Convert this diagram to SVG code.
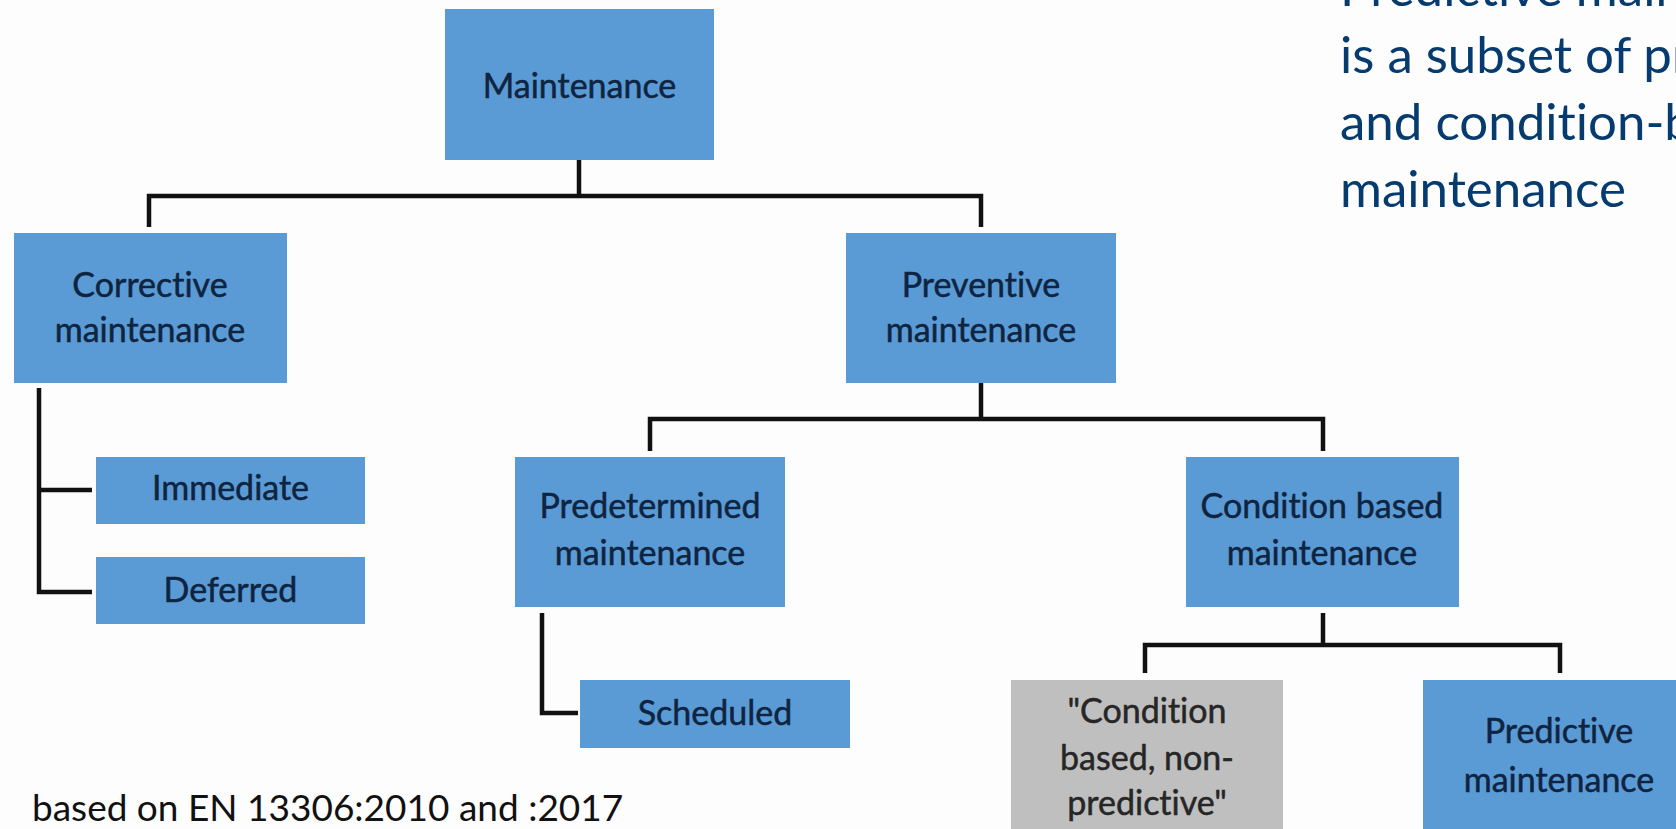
<svg xmlns="http://www.w3.org/2000/svg" width="1676" height="829" viewBox="0 0 1676 829">
<style>
text{font-variant-ligatures:none;}
.box{fill:#5b9bd5;}
.grey{fill:#bfbfbf;}
.lbl{font-family:Lato,"Open Sans","Liberation Sans",sans-serif;font-size:34px;fill:#0f2440;stroke:#0f2440;stroke-width:0.5;text-anchor:middle;}
.glbl{font-family:Lato,"Open Sans","Liberation Sans",sans-serif;font-size:34px;fill:#262626;stroke:#262626;stroke-width:0.5;text-anchor:middle;}
.con{fill:none;stroke:#111;stroke-width:4.5;stroke-linejoin:miter;stroke-linecap:butt;}
.note{font-family:Lato,"Open Sans","Liberation Sans",sans-serif;font-size:51px;fill:#053b6e;}
.foot{font-family:Lato,"Open Sans","Liberation Sans",sans-serif;font-size:37px;fill:#111;}
</style>
<rect width="1676" height="829" fill="#fdfdfd"/>
<g id="connectors">
<path class="con" d="M579,160 V196"/>
<path class="con" d="M149,227 V196 H981 V227"/>
<path class="con" d="M981,383 V419"/>
<path class="con" d="M650,451 V419 H1323 V451"/>
<path class="con" d="M39,388 V592 H92"/>
<path class="con" d="M39,490 H92"/>
<path class="con" d="M542,613 V713 H578"/>
<path class="con" d="M1323,613 V645"/>
<path class="con" d="M1145,673 V645 H1560 V673"/>
</g>
<g id="maintenance">
<rect class="box" x="445" y="9" width="269" height="151"/>
<text class="lbl" x="579.5" y="98">Maintenance</text>
</g>
<g id="corrective">
<rect class="box" x="14" y="233" width="273" height="150"/>
<text class="lbl" x="150" y="297">Corrective</text>
<text class="lbl" x="150" y="342">maintenance</text>
</g>
<g id="preventive">
<rect class="box" x="846" y="233" width="270" height="150"/>
<text class="lbl" x="981" y="297">Preventive</text>
<text class="lbl" x="981" y="342">maintenance</text>
</g>
<g id="immediate">
<rect class="box" x="96" y="457" width="269" height="67"/>
<text class="lbl" x="230.5" y="500">Immediate</text>
</g>
<g id="deferred">
<rect class="box" x="96" y="557" width="269" height="67"/>
<text class="lbl" x="230.5" y="602">Deferred</text>
</g>
<g id="predetermined">
<rect class="box" x="515" y="457" width="270" height="150"/>
<text class="lbl" x="650" y="518">Predetermined</text>
<text class="lbl" x="650" y="565">maintenance</text>
</g>
<g id="condition">
<rect class="box" x="1186" y="457" width="273" height="150"/>
<text class="lbl" x="1322" y="518">Condition based</text>
<text class="lbl" x="1322" y="565">maintenance</text>
</g>
<g id="scheduled">
<rect class="box" x="580" y="680" width="270" height="68"/>
<text class="lbl" x="715" y="725">Scheduled</text>
</g>
<g id="nonpredictive">
<rect class="grey" x="1011" y="680" width="272" height="150"/>
<text class="glbl" x="1147" y="723">"Condition</text>
<text class="glbl" x="1147" y="770">based, non-</text>
<text class="glbl" x="1147" y="815">predictive"</text>
</g>
<g id="predictive">
<rect class="box" x="1423" y="680" width="272" height="150"/>
<text class="lbl" x="1559" y="743">Predictive</text>
<text class="lbl" x="1559" y="792">maintenance</text>
</g>
<g id="note">
<text class="note" x="1340" y="6">Predictive maintenance</text>
<text class="note" x="1340" y="73">is a subset of preventive</text>
<text class="note" x="1340" y="140">and condition-based</text>
<text class="note" x="1340" y="207">maintenance</text>
</g>
<text class="foot" x="32" y="821">based on EN 13306:2010 and :2017</text>
</svg>
